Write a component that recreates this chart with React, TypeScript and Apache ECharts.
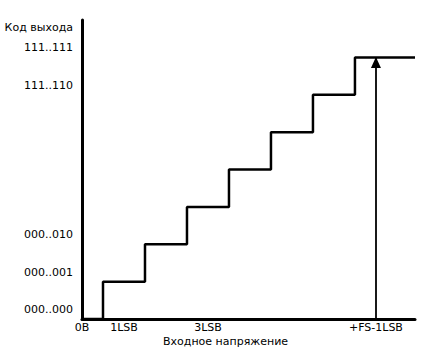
import React, { useEffect, useRef } from "react";
import * as echarts from "echarts";

// Input voltage (in LSB) at which each output code begins
const stepInputs = [0, 0.5, 1.5, 2.5, 3.5, 4.5, 5.5, 6.5, 7.93];
// Output code reached at each of those inputs
const stepCodes = [0, 1, 2, 3, 4, 5, 6, 7, 7];
// Y tick labels (output codes)
const codeLabels: Record<number, string> = {
  0: "000..000",
  1: "000..001",
  2: "000..010",
  6: "111..110",
  7: "111..111",
};
// X tick labels (input voltage)
const inputLabels: Record<number, string> = {
  0: "0В",
  1: "1LSB",
  3: "3LSB",
  7: "+FS-1LSB",
};
const arrowInput = 7;
const arrowFrom = 0;
const arrowTo = 7;

const FONT = "DejaVu Sans";

export default function App() {
  const ref = useRef<HTMLDivElement>(null);
  useEffect(() => {
    if (!ref.current) return;
    const chart = echarts.init(ref.current, null, { renderer: "svg" });
    const data = stepInputs.map((x, i) => [x, stepCodes[i]]);
    chart.setOption({
      animation: false,
      grid: { left: 82, top: 20, width: 333, height: 299 },
      xAxis: {
        type: "value",
        min: 0,
        max: 7.93,
        interval: 1,
        splitLine: { show: false },
        axisTick: { show: false },
        axisLine: { show: true, lineStyle: { color: "#000", width: 3 } },
        axisLabel: {
          color: "#000",
          fontFamily: FONT,
          fontSize: 11,
          margin: 3,
          showMaxLabel: false,
          formatter: (v: number) => inputLabels[Math.round(v * 100) / 100] ?? "",
        },
      },
      yAxis: {
        type: "value",
        min: 0,
        max: 8,
        interval: 1,
        splitLine: { show: false },
        axisTick: { show: false },
        axisLine: { show: true, lineStyle: { color: "#000", width: 3 } },
        axisLabel: {
          color: "#000",
          fontFamily: FONT,
          fontSize: 11,
          margin: 9,
          verticalAlign: "bottom",
          lineHeight: 13,
          padding: [0, 0, 3, 0],
          formatter: (v: number) => codeLabels[v] ?? "",
        },
      },
      graphic: [
        {
          type: "text",
          right: 435 - 73,
          top: 22,
          style: { text: "Код выхода", fill: "#000", font: `11px "${FONT}"` },
        },
        {
          type: "text",
          left: 228 - 65,
          top: 336,
          style: { text: "Входное напряжение", fill: "#000", font: `11px "${FONT}"` },
        },
      ],
      series: [
        {
          type: "line",
          step: "end",
          data,
          symbol: "none",
          silent: true,
          lineStyle: { color: "#000", width: 2.5 },
          markLine: {
            silent: true,
            symbol: ["none", "triangle"],
            symbolSize: [10, 11],
            symbolOffset: [0, [0, 5]],
            label: { show: false },
            lineStyle: { color: "#000", width: 1.8, type: "solid" },
            emphasis: { disabled: true },
            data: [[{ coord: [arrowInput, arrowFrom] }, { coord: [arrowInput, arrowTo] }]],
          },
        },
      ],
    });
    return () => chart.dispose();
  }, []);
  return (
    <div
      ref={ref}
      style={{ position: "fixed", left: 0, top: 0, width: 435, height: 358, background: "#fff" }}
    />
  );
}
